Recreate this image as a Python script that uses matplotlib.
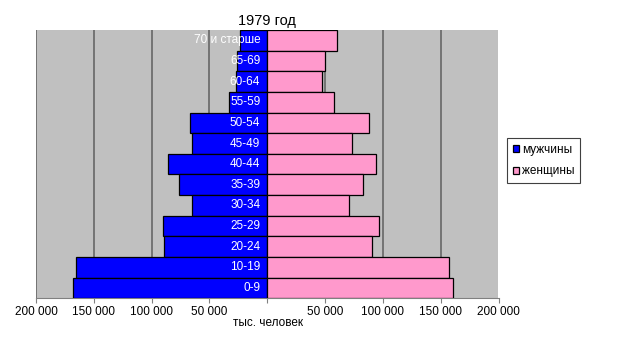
import numpy as np
import matplotlib
matplotlib.use('Agg')
import matplotlib.pyplot as plt

plt.rcParams['font.family'] = ['Liberation Sans', 'DejaVu Sans']

# --- data (thousand people), top row first ---
ages = ['70 и старше', '65-69', '60-64', '55-59', '50-54', '45-49', '40-44',
        '35-39', '30-34', '25-29', '20-24', '10-19', '0-9']
men = [23.8e3, 25.8e3, 27e3, 33e3, 67e3, 65.5e3, 85.5e3,
       76e3, 65e3, 90.5e3, 89.5e3, 165e3, 168e3]
women = [60e3, 50e3, 47.5e3, 57.7e3, 88e3, 73.7e3, 93.9e3,
         83e3, 70.7e3, 96.9e3, 91e3, 157.6e3, 160.5e3]
tick_values = [-200000, -150000, -100000, -50000, 0, 50000, 100000, 150000, 200000]
tick_labels = ['200 000', '150 000', '100 000', '50 000', '',
               '50 000', '100 000', '150 000', '200 000']

fig = plt.figure(figsize=(6.18, 3.4), dpi=100)
ax = fig.add_axes([36 / 618, 1 - 298.3 / 340, 462.5 / 618, 268.3 / 340])
ax.set_facecolor('#C0C0C0')

y = np.arange(len(ages))[::-1]
ax.barh(y, -np.array(men), height=1.0, color='#0000FF', edgecolor='black',
        linewidth=0.9, label='мужчины', zorder=3)
ax.barh(y, women, height=1.0, color='#FF99CC', edgecolor='black',
        linewidth=0.9, label='женщины', zorder=3)

for yi, name in zip(y, ages):
    ax.annotate(name, xy=(0, yi), xytext=(-7, 0), textcoords='offset pixels',
                ha='right', va='center', color='white', fontsize=8.5, zorder=4)

ax.set_xlim(-200000, 200000)
ax.set_ylim(-0.5, len(ages) - 0.5)
ax.set_xticks(tick_values)
ax.set_xticklabels(tick_labels, fontsize=8.5)
ax.set_yticks([])
ax.tick_params(axis='x', length=3.5, width=0.8, color='#808080', pad=2)
for v in tick_values:
    if v != 0:
        ax.axvline(v, color='#6e6e6e', linewidth=1.3, zorder=1)
for s in ['top', 'left', 'right']:
    ax.spines[s].set_visible(False)
ax.spines['bottom'].set_color('#808080')
ax.spines['bottom'].set_linewidth(0.8)

ax.set_title('1979 год', fontsize=10.5, pad=3.5)
fig.text(268 / 618, 1 - 326 / 340, 'тыс. человек', ha='center', va='baseline', fontsize=8.5)

leg = fig.legend(loc='upper left', bbox_to_anchor=(507 / 618, 1 - 138 / 340),
                 bbox_transform=fig.transFigure, borderaxespad=0, fontsize=8.5,
                 handlelength=0.55, handleheight=0.55, handletextpad=0.2,
                 borderpad=0.5, labelspacing=0.8, fancybox=False, framealpha=1,
                 edgecolor='#404040')
leg.get_frame().set_linewidth(0.8)

fig.savefig('out.png', dpi=100)
